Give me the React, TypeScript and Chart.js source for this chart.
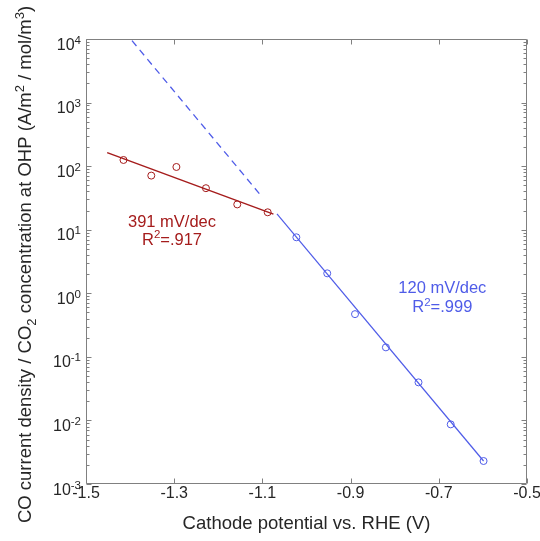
import React, { useEffect, useRef } from "react";
import { Chart, registerables } from "chart.js";
Chart.register(...registerables);

// ---- data ----
const redX = [-1.415, -1.352, -1.295, -1.228, -1.157, -1.088];
const redY = [125, 71, 97, 45, 25, 18.8];
const blueX = [-1.023, -0.953, -0.89, -0.82, -0.746, -0.673, -0.5985];
const blueY = [7.6, 2.06, 0.47, 0.141, 0.0397, 0.00867, 0.0023];
const redFitX = [-1.452, -1.075];
const redFitY = [163, 17.6];
const blueFitX = [-1.067, -0.5985];
const blueFitY = [17.7, 0.0023];
const blueExtX = [-1.107, -1.42];
const blueExtY = [37, 15000];

const xTicks = [-1.5, -1.3, -1.1, -0.9, -0.7, -0.5];
const xTickLabels = ["-1.5", "-1.3", "-1.1", "-0.9", "-0.7", "-0.5"];
const yExponents = [-3, -2, -1, 0, 1, 2, 3, 4];

const redNoteLines = ["391 mV/dec", "R^2=.917"];
const blueNoteLines = ["120 mV/dec", "R^2=.999"];
const redNoteX = -1.305;
const redNoteY = [11.0, 5.75];
const blueNoteX = -0.692;
const blueNoteY = [1.01, 0.499];

const xTitle = "Cathode potential vs. RHE (V)";
const yTitle = "CO current density / CO_2 concentration at OHP (A/m^2 / mol/m^3)";

// ---- styles ----
const RED = "#a51c1c";
const BLUE = "#4f5ce8";
const AXIS = "#808080";
const TEXT = "#262626";
const FONT = "'Liberation Sans', Arial, Helvetica, sans-serif";

type Seg = { t: string; k: "n" | "sup" | "sub" };

function parseRich(s: string): Seg[] {
  const out: Seg[] = [];
  let buf = "";
  for (let i = 0; i < s.length; i++) {
    const c = s[i];
    if ((c === "^" || c === "_") && i + 1 < s.length) {
      if (buf) out.push({ t: buf, k: "n" });
      buf = "";
      out.push({ t: s[i + 1], k: c === "^" ? "sup" : "sub" });
      i++;
    } else buf += c;
  }
  if (buf) out.push({ t: buf, k: "n" });
  return out;
}

function drawRich(
  ctx: CanvasRenderingContext2D,
  segs: Seg[],
  x: number,
  y: number,
  size: number,
  subSize: number,
  supShift: number,
  subShift: number,
  align: "left" | "center" | "right",
  color: string
) {
  const fontFor = (k: string) => `${k === "n" ? size : subSize}px ${FONT}`;
  let total = 0;
  const widths = segs.map((s) => {
    ctx.font = fontFor(s.k);
    const w = ctx.measureText(s.t).width;
    total += w;
    return w;
  });
  let cx = align === "left" ? x : align === "center" ? x - total / 2 : x - total;
  ctx.fillStyle = color;
  ctx.textAlign = "left";
  ctx.textBaseline = "alphabetic";
  segs.forEach((s, i) => {
    ctx.font = fontFor(s.k);
    const dy = s.k === "sup" ? -supShift : s.k === "sub" ? subShift : 0;
    ctx.fillText(s.t, cx, y + dy);
    cx += widths[i];
  });
}

const axesPlugin = {
  id: "matlabAxes",
  afterDraw(chart: any) {
    const ctx: CanvasRenderingContext2D = chart.ctx;
    const { left, right, top, bottom } = chart.chartArea;
    const xs = chart.scales.x;
    const ys = chart.scales.y;
    const L = Math.round(left) + 0.5;
    const R = Math.round(right) - 0.5;
    const T = Math.round(top) + 0.5;
    const B = Math.round(bottom) - 0.5;
    ctx.save();
    ctx.strokeStyle = AXIS;
    ctx.lineWidth = 1;
    ctx.beginPath();
    ctx.rect(L, T, R - L, B - T);
    ctx.stroke();

    ctx.beginPath();
    xTicks.forEach((v) => {
      const px = Math.round(xs.getPixelForValue(v)) + 0.5;
      ctx.moveTo(px, B);
      ctx.lineTo(px, B - 5);
      ctx.moveTo(px, T);
      ctx.lineTo(px, T + 5);
    });
    yExponents.forEach((e) => {
      const py = Math.round(ys.getPixelForValue(Math.pow(10, e))) + 0.5;
      ctx.moveTo(L, py);
      ctx.lineTo(L + 5, py);
      ctx.moveTo(R, py);
      ctx.lineTo(R - 5, py);
      if (e < 4) {
        for (let m = 2; m <= 9; m++) {
          const pm = Math.round(ys.getPixelForValue(m * Math.pow(10, e))) + 0.5;
          ctx.moveTo(L, pm);
          ctx.lineTo(L + 3, pm);
          ctx.moveTo(R, pm);
          ctx.lineTo(R - 3, pm);
        }
      }
    });
    ctx.stroke();

    ctx.fillStyle = TEXT;
    ctx.font = `16px ${FONT}`;
    ctx.textAlign = "center";
    ctx.textBaseline = "alphabetic";
    xTicks.forEach((v, i) => {
      ctx.fillText(xTickLabels[i], xs.getPixelForValue(v), B + 14.5);
    });

    yExponents.forEach((e) => {
      const py = ys.getPixelForValue(Math.pow(10, e));
      drawRich(ctx, [{ t: "10", k: "n" }, { t: String(e), k: "sup" }], left - 5, py + 10.5, 16, 11.5, 6, 0, "right", TEXT);
    });

    ctx.fillStyle = TEXT;
    ctx.font = `18.5px ${FONT}`;
    ctx.textAlign = "center";
    ctx.fillText(xTitle, (left + right) / 2, B + 45);

    ctx.save();
    ctx.translate(31, (top + bottom) / 2 + 3);
    ctx.rotate(-Math.PI / 2);
    drawRich(ctx, parseRich(yTitle), 0, 0, 18.5, 13, 7.5, 5, "center", TEXT);
    ctx.restore();

    redNoteLines.forEach((s, i) => {
      drawRich(ctx, parseRich(s), xs.getPixelForValue(redNoteX), ys.getPixelForValue(redNoteY[i]), 16.5, 11.5, 6.5, 4, "center", RED);
    });
    blueNoteLines.forEach((s, i) => {
      drawRich(ctx, parseRich(s), xs.getPixelForValue(blueNoteX), ys.getPixelForValue(blueNoteY[i]), 16.5, 11.5, 6.5, 4, "center", BLUE);
    });
    ctx.restore();
  },
};

const pts = (xs: number[], ys: number[]) => xs.map((x, i) => ({ x, y: ys[i] }));

export default function App() {
  const ref = useRef<HTMLCanvasElement | null>(null);
  useEffect(() => {
    if (!ref.current) return;
    const chart = new Chart(ref.current, {
      type: "scatter",
      data: {
        datasets: [
          {
            data: pts(blueExtX, blueExtY),
            showLine: true,
            borderColor: BLUE,
            borderWidth: 1.3,
            borderDash: [7, 5],
            pointRadius: 0,
          },
          {
            data: pts(redFitX, redFitY),
            showLine: true,
            borderColor: RED,
            borderWidth: 1.5,
            pointRadius: 0,
          },
          {
            data: pts(blueFitX, blueFitY),
            showLine: true,
            borderColor: BLUE,
            borderWidth: 1.2,
            pointRadius: 0,
          },
          {
            data: pts(redX, redY),
            showLine: false,
            borderColor: RED,
            backgroundColor: "rgba(0,0,0,0)",
            borderWidth: 1,
            pointRadius: 3.5,
          },
          {
            data: pts(blueX, blueY),
            showLine: false,
            borderColor: BLUE,
            backgroundColor: "rgba(0,0,0,0)",
            borderWidth: 1,
            pointRadius: 3.5,
          },
        ],
      } as any,
      options: {
        animation: false,
        responsive: false,
        maintainAspectRatio: false,
        layout: { padding: { left: 86, right: 13, top: 39, bottom: 57 } },
        plugins: { legend: { display: false }, tooltip: { enabled: false } },
        scales: {
          x: { type: "linear", min: -1.5, max: -0.5, display: false },
          y: { type: "logarithmic", min: 1e-3, max: 1e4, display: false },
        },
      } as any,
      plugins: [axesPlugin],
    });
    return () => chart.destroy();
  }, []);
  return (
    <div style={{ position: "fixed", left: 0, top: 0, width: 540, height: 541, background: "#fff" }}>
      <canvas ref={ref} width={540} height={541} style={{ display: "block" }} />
    </div>
  );
}
